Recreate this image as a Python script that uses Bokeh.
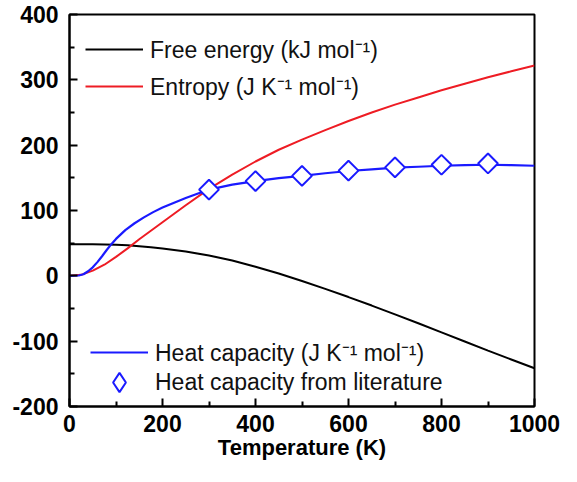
import numpy as np
from bokeh.plotting import figure
from bokeh.models import Range1d, FixedTicker, Legend, LegendItem, ColumnDataSource
from bokeh.embed import file_html
from bokeh.resources import INLINE

# ---- data ----
temperature = [0, 25, 50, 75, 100, 125, 150, 175, 200, 250, 300, 350, 400,
               450, 500, 550, 600, 650, 700, 750, 800, 850, 900, 950, 1000]
free_energy = [48.5, 48.5, 48.4, 48.1, 47.6, 46.7, 45.4, 43.8, 41.9, 37.2, 31.0,
               23.5, 14.0, 3.5, -8.0, -20.0, -32.5, -45.5, -59.0, -72.5, -86.5,
               -100.5, -114.5, -128.0, -141.5]
entropy = [0, 1.5, 8, 17, 29, 42, 56, 69, 82, 108, 133, 155, 175, 193, 208.5,
           223, 237, 250, 262, 273, 284, 294, 304, 313, 322]
cp_temperature = [0, 20, 30, 40, 50, 60, 70, 80, 90, 100, 120, 140, 160, 180,
                  200, 225, 250, 275, 300, 350, 400, 450, 500, 550, 600, 650,
                  700, 750, 800, 850, 900, 950, 1000]
heat_capacity = [0, 0.5, 2.5, 7, 13, 21, 30, 39.5, 48.5, 56.5, 70, 80.5, 89.5,
                 97.5, 104.5, 112, 119, 125.5, 132, 139.5, 145, 149.5, 153, 157,
                 160.5, 163, 165.5, 167, 168.5, 169.5, 170, 169.5, 168.5]
lit_temperature = [300, 400, 500, 600, 700, 800, 900]
lit_heat_capacity = [132, 145, 153, 161, 166, 170, 172]

x_major = [0, 200, 400, 600, 800, 1000]
x_minor = [100, 300, 500, 700, 900]
y_major = [-200, -100, 0, 100, 200, 300, 400]
y_minor = [-150, -50, 50, 150, 250, 350]

labels = ["Free energy (kJ mol\u207b\u00b9)",
          "Entropy (J K\u207b\u00b9 mol\u207b\u00b9)",
          "Heat capacity (J K\u207b\u00b9 mol\u207b\u00b9)",
          "Heat capacity from literature"]

FONT = "Liberation Sans"
BLUE = "#1a1aff"
RED = "#ee1c24"

p = figure(width=561, height=466, output_backend="svg", toolbar_location=None,
           x_range=Range1d(0, 1000), y_range=Range1d(-200, 400),
           min_border_left=69, min_border_right=27, min_border_top=14,
           min_border_bottom=60)
p.xgrid.visible = False
p.ygrid.visible = False
p.outline_line_color = "black"
p.outline_line_width = 2
p.background_fill_color = "white"

r_g = p.line(temperature, free_energy, line_color="black", line_width=2)
r_s = p.line(temperature, entropy, line_color=RED, line_width=2)
r_c = p.line(cp_temperature, heat_capacity, line_color=BLUE, line_width=2.2)
lit_src = ColumnDataSource(data=dict(x=lit_temperature, y=lit_heat_capacity))
# legend key (legends never rotate markers); drawn underneath and fully covered
r_key = p.scatter("x", "y", source=lit_src, marker="diamond", size=10,
                  fill_color="white", line_color=BLUE, line_width=2)
r_l = p.scatter("x", "y", source=lit_src, marker="square", size=14,
                angle=np.pi / 4, fill_color="white", line_color=BLUE,
                line_width=2)

for ax, major, minor in ((p.xaxis[0], x_major, x_minor), (p.yaxis[0], y_major, y_minor)):
    ax.ticker = FixedTicker(ticks=major, minor_ticks=minor)
    ax.axis_line_width = 2
    ax.major_tick_line_width = 2
    ax.minor_tick_line_width = 2
    ax.major_tick_in = 8
    ax.major_tick_out = 0
    ax.minor_tick_in = 5
    ax.minor_tick_out = 0
    ax.major_label_text_font = FONT
    ax.major_label_text_font_style = "bold"
    ax.major_label_text_font_size = "23px"
    ax.major_label_text_color = "black"

p.yaxis.major_label_overrides = {v: str(v) for v in y_major}
p.xaxis.major_label_standoff = 8
p.yaxis.major_label_standoff = 11
p.xaxis.axis_label = "Temperature (K)"
p.xaxis.axis_label_text_font = FONT
p.xaxis.axis_label_text_font_style = "bold"
p.xaxis.axis_label_text_font_size = "22px"
p.xaxis.axis_label_text_color = "black"
p.xaxis.axis_label_standoff = 0


def make_legend(items, loc, spacing, gh=34):
    return Legend(items=items, location=loc, padding=0, margin=0, spacing=spacing,
                  glyph_width=58, glyph_height=gh, label_height=gh,
                  label_standoff=7, border_line_alpha=0, background_fill_alpha=0,
                  label_text_font=FONT, label_text_font_size="23px",
                  label_text_color="#111111")


leg_top = make_legend([LegendItem(label=labels[0], renderers=[r_g]),
                       LegendItem(label=labels[1], renderers=[r_s])],
                      (16, 303), 3)
leg_cp = make_legend([LegendItem(label=labels[2], renderers=[r_c])],
                     (21, 37), 0)
leg_lit = make_legend([LegendItem(label=labels[3], renderers=[r_key])],
                      (21, 0), 0, gh=48)
for lg in (leg_top, leg_cp, leg_lit):
    p.add_layout(lg, "center")

open("out.html", "w").write(file_html(p, INLINE))
